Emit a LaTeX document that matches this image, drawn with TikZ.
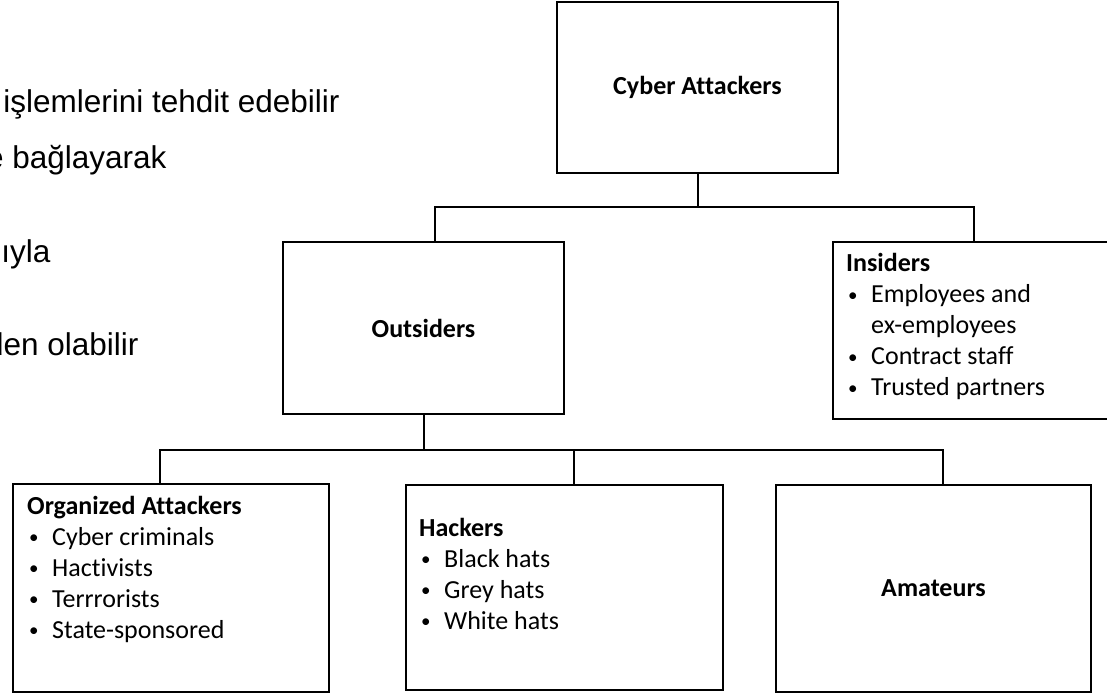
\documentclass[tikz,border=0pt]{standalone}
\usepackage{fontspec}
\setmainfont{Carlito}[Ligatures=NoCommon]
\newfontfamily\trfont{Liberation Sans}
\usetikzlibrary{positioning}

\newcommand{\bitem}{\makebox[25pt][l]{\hspace{2pt}\raisebox{1.5pt}{\fontsize{19}{19}\selectfont\textbullet}}}

\tikzset{
    box/.style={draw, line width=2pt, rectangle, inner sep=0pt,
        font=\fontsize{26}{31}\selectfont},
    listtxt/.style={anchor=west, align=left, inner sep=0pt,
        font=\fontsize{26}{31}\selectfont},
    conn/.style={line width=2pt},
    trline/.style={anchor=base east, font=\trfont\fontsize{31.5}{38}\selectfont}
}

\begin{document}
\begin{tikzpicture}[x=1pt, y=-1pt]
    \clip (0,0) rectangle (1107,695);
    \fill[white] (0,0) rectangle (1107,695);

    % slide text behind the chart
    \node[trline] (tr1) at (343,113) {işlemlerini tehdit edebilir};
    \node[trline] (tr2) at (170,168) {e bağlayarak};
    \node[trline] (tr3) at (54,262) {ğıyla};
    \node[trline] (tr4) at (142,355) {den olabilir};

    \node[box, minimum width=281, minimum height=171] (cyber) at (697.5,87.5) {\textbf{Cyber Attackers}};

    \node[box, minimum width=281, minimum height=172] (outs) at (423.5,328) {\textbf{Outsiders}};
    \node[box, minimum width=281, minimum height=177] (ins) at (973.5,330.5) {};
    \node[listtxt] (instxt) at ([xshift=14pt, yshift=4pt]ins.west)
        {\textbf{Insiders}\\ \bitem Employees and\\ \hspace*{25pt}ex-employees\\ \bitem Contract staff\\ \bitem Trusted partners};

    \node[box, minimum width=316, minimum height=208] (org) at (171,588) {};
    \node[listtxt] (orgtxt) at ([xshift=15pt, yshift=19pt]org.west)
        {\textbf{Organized Attackers}\\ \bitem Cyber criminals\\ \bitem Hactivists\\ \bitem Terrrorists\\ \bitem State-sponsored};
    \node[box, minimum width=317, minimum height=205] (hack) at (564.5,587.5) {};
    \node[listtxt] (hacktxt) at ([xshift=14pt, yshift=14pt]hack.west)
        {\textbf{Hackers}\\ \bitem Black hats\\ \bitem Grey hats\\ \bitem White hats};
    \node[box, minimum width=315, minimum height=207] (amat) at (933.5,588.5) {\textbf{Amateurs}};

    \path (cyber.south) ++(0,33) coordinate (upbar);
    \draw[conn] (cyber.south) -- (upbar);
    \draw[conn] ([xshift=11.5pt]outs.north) |- (upbar) -| (ins.north);

    \path (outs.south) ++(0,35) coordinate (lowbar);
    \draw[conn] (outs.south) -- (lowbar);
    \draw[conn] ([xshift=-11pt]org.north) |- (lowbar) -| ([xshift=9.5pt]hack.north);
    \draw[conn] (lowbar) -| ([xshift=9.5pt]amat.north);
\end{tikzpicture}
\end{document}
